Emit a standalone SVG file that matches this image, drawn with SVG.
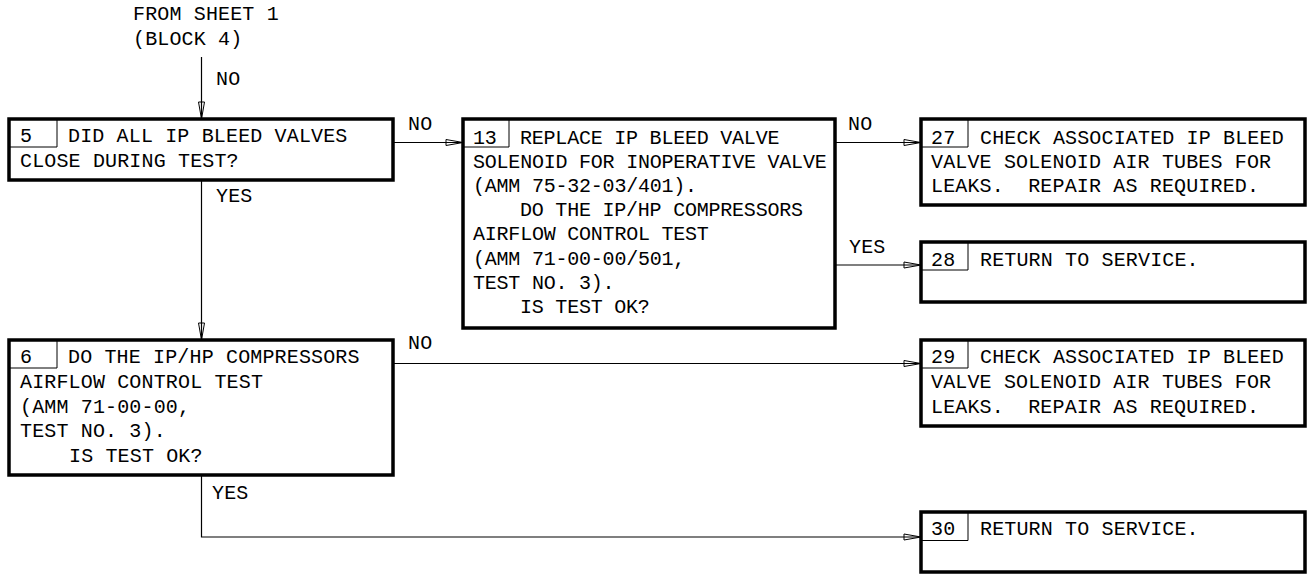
<svg xmlns="http://www.w3.org/2000/svg" width="1311" height="576" viewBox="0 0 1311 576">
<style>
text{font-family:"Liberation Mono","DejaVu Sans Mono",monospace;font-size:20px;fill:#000;letter-spacing:0.15px;white-space:pre}
.n13{letter-spacing:-0.22px}
.box{fill:#fff;stroke:#000;stroke-width:3.5}
.cell{fill:none;stroke:#000;stroke-width:1}
.con{fill:none;stroke:#000;stroke-width:1.2}
</style>
<defs>
<marker id="arr" viewBox="-19 -4 20 8" refX="0" refY="0" markerWidth="20" markerHeight="8" markerUnits="userSpaceOnUse" orient="auto">
<path d="M0,0 L-17,-3 L-17,3 Z" fill="none" stroke="#000" stroke-width="1"/>
</marker>
</defs>
<rect width="1311" height="576" fill="#fff"/>

<g id="connectors">
<path class="con" d="M201.5,57 V119" marker-end="url(#arr)"/>
<path class="con" d="M201.5,180 V340" marker-end="url(#arr)"/>
<path class="con" d="M393,142.5 H463" marker-end="url(#arr)"/>
<path class="con" d="M835,142.5 H921" marker-end="url(#arr)"/>
<path class="con" d="M835,265 H921" marker-end="url(#arr)"/>
<path class="con" d="M393,363.5 H921" marker-end="url(#arr)"/>
<path class="con" d="M201.5,475 V537 H921" marker-end="url(#arr)"/>
<text x="216" y="85">NO</text>
<text x="408" y="130">NO</text>
<text x="216" y="202">YES</text>
<text x="848" y="130">NO</text>
<text x="849" y="253">YES</text>
<text x="408" y="349">NO</text>
<text x="212" y="499">YES</text>
</g>

<g id="source">
<text x="133" y="20">FROM SHEET 1</text>
<text x="133" y="45">(BLOCK 4)</text>
</g>

<g id="block5">
<rect class="box" x="9" y="119" width="384" height="61"/>
<path class="cell" d="M9,147 H57 V119"/>
<text x="20" y="142">5</text>
<text x="68" y="142">DID ALL IP BLEED VALVES</text>
<text x="20" y="166.5">CLOSE DURING TEST?</text>
</g>

<g id="block13">
<rect class="box" x="463" y="119" width="372" height="209"/>
<path class="cell" d="M463,147 H509 V119"/>
<g class="n13">
<text class="n13" x="473" y="143.5">13</text>
<text class="n13" x="520" y="143.5">REPLACE IP BLEED VALVE</text>
<text class="n13" x="473" y="167.7">SOLENOID FOR INOPERATIVE VALVE</text>
<text class="n13" x="473" y="191.9">(AMM 75-32-03/401).</text>
<text class="n13" x="520" y="216.1">DO THE IP/HP COMPRESSORS</text>
<text class="n13" x="473" y="240.3">AIRFLOW CONTROL TEST</text>
<text class="n13" x="473" y="264.5">(AMM 71-00-00/501,</text>
<text class="n13" x="473" y="288.7">TEST NO. 3).</text>
<text class="n13" x="520" y="313">IS TEST OK?</text>
</g>
</g>

<g id="block27">
<rect class="box" x="921" y="119" width="384" height="86"/>
<path class="cell" d="M921,147 H968 V119"/>
<text x="931" y="143.5">27</text>
<text x="980" y="143.5">CHECK ASSOCIATED IP BLEED</text>
<text x="931" y="167.8">VALVE SOLENOID AIR TUBES FOR</text>
<text x="931" y="192">LEAKS.  REPAIR AS REQUIRED.</text>
</g>

<g id="block28">
<rect class="box" x="921" y="242" width="384" height="60"/>
<path class="cell" d="M921,270 H968 V242"/>
<text x="931" y="265.7">28</text>
<text x="980" y="265.7">RETURN TO SERVICE.</text>
</g>

<g id="block6">
<rect class="box" x="9" y="340" width="384" height="135"/>
<path class="cell" d="M9,368 H57 V340"/>
<text x="20" y="363.3">6</text>
<text x="68" y="363.3">DO THE IP/HP COMPRESSORS</text>
<text x="20" y="388">AIRFLOW CONTROL TEST</text>
<text x="20" y="412.5">(AMM 71-00-00,</text>
<text x="20" y="437">TEST NO. 3).</text>
<text x="69" y="461.5">IS TEST OK?</text>
</g>

<g id="block29">
<rect class="box" x="921" y="340" width="384" height="86"/>
<path class="cell" d="M921,368 H968 V340"/>
<text x="931" y="363.3">29</text>
<text x="980" y="363.3">CHECK ASSOCIATED IP BLEED</text>
<text x="931" y="388">VALVE SOLENOID AIR TUBES FOR</text>
<text x="931" y="412.5">LEAKS.  REPAIR AS REQUIRED.</text>
</g>

<g id="block30">
<rect class="box" x="921" y="512" width="384" height="60"/>
<path class="cell" d="M921,540.5 H968 V512"/>
<text x="931" y="535">30</text>
<text x="980" y="535">RETURN TO SERVICE.</text>
</g>
</svg>
